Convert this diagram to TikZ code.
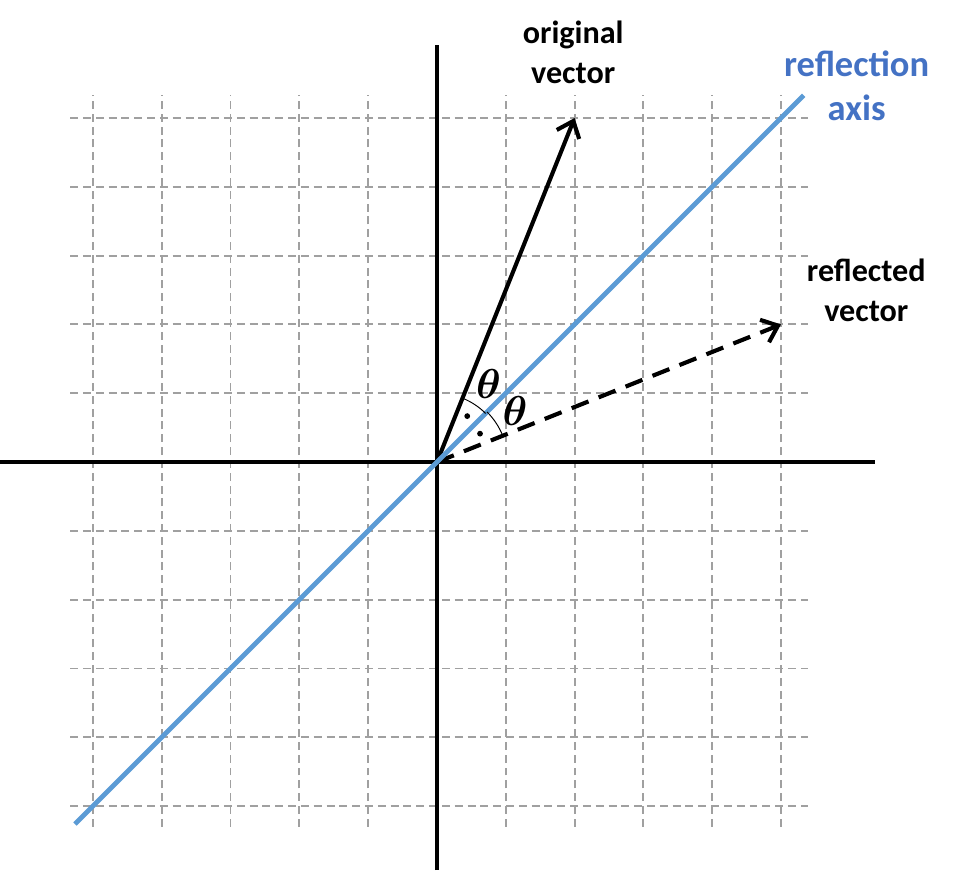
\documentclass[tikz,border=0pt]{standalone}
\usepackage{fontspec}
\usepackage{amsmath}
\setmainfont{Carlito}
\usetikzlibrary{arrows.meta}
\definecolor{axisblue}{RGB}{91,155,213}
\definecolor{labelblue}{RGB}{68,114,196}
\definecolor{gridgray}{RGB}{160,160,160}

\tikzstyle{gridline} =[draw=gridgray, line width=0.8pt,
dash pattern=on 3.3pt off 2pt]
\tikzstyle{axisline} =[draw=black, line width=1.7pt]
\tikzstyle{vec} =[draw=black, line width=1.7pt,
-{Straight Barb[length=6pt,width=10pt,line width=1.7pt]}]
\tikzstyle{lbl} =[align=center, font=\fontsize{13.3}{16.5}\selectfont\bfseries]
\tikzstyle{ang} =[inner sep=0pt, font=\fontsize{16}{16}\selectfont]

\begin{document}
\begin{tikzpicture}
\useasboundingbox (-6.35,-6.017) rectangle (7.645,6.715);
\foreach \i in {-5,...,-1,1,2,...,5}
{
	\draw[gridline] (\i,-5.3) -- (\i,5.33);
	\draw[gridline] (-5.33,\i) -- (5.39,\i);
}
\coordinate (O) at (0,0);
\coordinate (xl) at (-6.35,0);
\coordinate (xr) at (6.37,0);
\coordinate (yb) at (0,-5.93);
\coordinate (yt) at (0,6.06);
\coordinate (P) at (2,5);
\coordinate (R) at (5,2);
\coordinate (al) at (-5.26,-5.26);
\coordinate (ar) at (5.33,5.33);
\draw[axisline] (xl) -- (xr);
\draw[axisline] (yb) -- (yt);
\draw[vec] (O) -- (P);
\draw[vec, dash pattern=on 7.5pt off 4.5pt] (O) -- (R);
\draw[axisblue, line width=2pt] (al) -- (ar);
\draw[line width=0.4pt] (68.2:1.0) arc (68.2:45:1.0);
\draw[line width=0.4pt] (45:1.03) arc (45:21.8:1.03);
\fill (56.6:0.8) circle (1.2pt);
\fill (33.4:0.75) circle (1.2pt);
\node[ang] (t1) at (56.6:1.36) {$\boldsymbol{\theta}$};
\node[ang] (t2) at (33.4:1.36) {$\boldsymbol{\theta}$};
\node[lbl] (orig) at (1.98,5.96) {original\\vector};
\node[lbl] (refl) at (6.24,2.5) {reflected\\vector};
\node[lbl, text=labelblue, font=\fontsize{15.1}{18}\selectfont\bfseries] (ax) at (6.1,5.47) {reflection\\axis};
\end{tikzpicture}
\end{document}
